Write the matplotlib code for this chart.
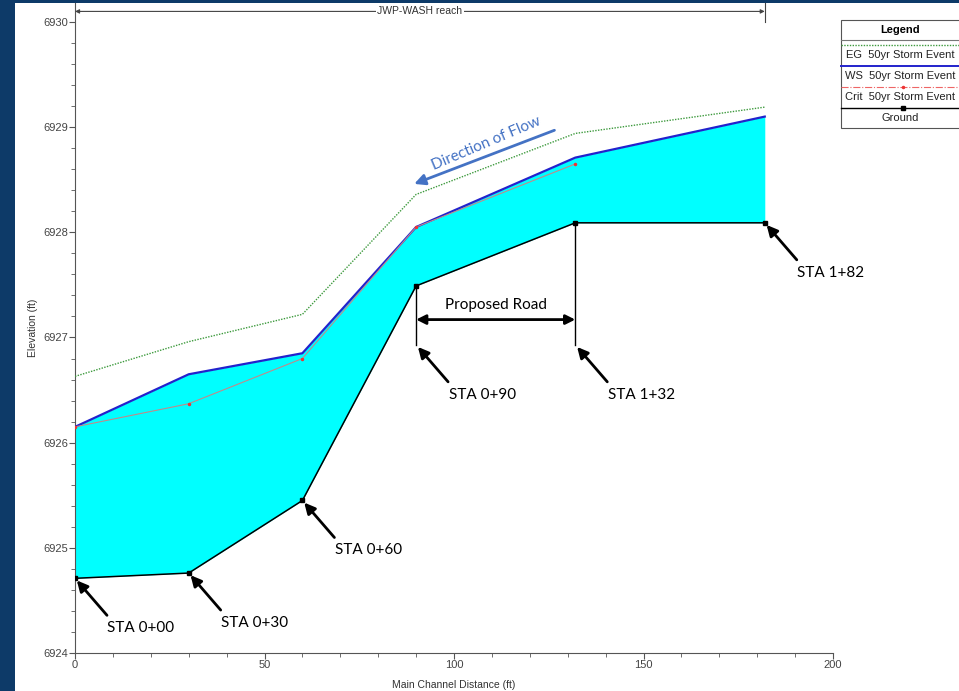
import matplotlib
matplotlib.use("Agg")
import matplotlib.pyplot as plt
from matplotlib.patches import Rectangle
from matplotlib.lines import Line2D
from matplotlib.ticker import MultipleLocator

# --- data ---
stations = [0, 30, 60, 90, 132, 182]
ground = [6924.71, 6924.76, 6925.45, 6927.49, 6928.09, 6928.09]
ws = [6926.15, 6926.65, 6926.85, 6928.05, 6928.71, 6929.10]
eg = [6926.63, 6926.96, 6927.22, 6928.36, 6928.94, 6929.19]
crit_sta = [0, 30, 60, 90, 132]
crit = [6926.15, 6926.37, 6926.80, 6928.05, 6928.65]
sta_labels = ["STA 0+00", "STA 0+30", "STA 0+60", "STA 0+90", "STA 1+32", "STA 1+82"]
road_start, road_end = 90, 132
road_elev = 6926.93

W, H = 959, 691
fig = plt.figure(figsize=(W / 100, H / 100), dpi=100)
fig.patch.set_facecolor("#0d3a68")
fig.add_artist(Rectangle((15 / W, 0), 1, 1 - 3 / H, transform=fig.transFigure,
                         facecolor="white", edgecolor="none", zorder=0))

ax = fig.add_axes([75 / W, 1 - 653 / H, (833 - 75) / W, (653 - 3) / H])
ax.set_facecolor("none")
ax.set_xlim(0, 200)
ax.set_ylim(6924, 6930.18)
for s in ["top", "right"]:
    ax.spines[s].set_visible(False)
for s in ["left", "bottom"]:
    ax.spines[s].set_color("#555555")
    ax.spines[s].set_linewidth(0.8)

ax.xaxis.set_major_locator(MultipleLocator(50))
ax.xaxis.set_minor_locator(MultipleLocator(10))
ax.yaxis.set_minor_locator(MultipleLocator(0.2))
ax.set_yticks(range(6924, 6931))
ax.tick_params(which="both", color="#555555", labelsize=8, labelcolor="#444444",
               pad=1, labelfontfamily="Liberation Sans")
ax.tick_params(which="major", length=4)
ax.tick_params(which="minor", length=3)
ax.set_xlabel("Main Channel Distance (ft)", fontsize=7.5, color="#333333",
              family="Liberation Sans", labelpad=7)
ax.set_ylabel("Elevation (ft)", fontsize=7.5, color="#333333",
              family="Liberation Sans", labelpad=4)

# --- profile ---
ax.fill_between(stations, ground, ws, color="#00ffff", linewidth=0, zorder=1)
ax.plot(stations, eg, color="#3d9a3d", linestyle=(0, (1, 1)), linewidth=1, zorder=3)
ax.plot(stations, ws, color="#2222cc", linewidth=1.6, zorder=3)
ax.plot(crit_sta, crit, color="#c08a8a", linewidth=0.8, marker=".",
        markersize=3, markerfacecolor="#ee3333", markeredgecolor="#ee3333", zorder=4)
ax.plot(stations, ground, color="black", linewidth=1.1, marker="s",
        markersize=2.5, zorder=4)

# --- reach bracket on top ---
ax.annotate("", xy=(0, 6930.1), xytext=(182, 6930.1),
            arrowprops=dict(arrowstyle="<|-|>", color="#444444", lw=0.8,
                            mutation_scale=6, shrinkA=0, shrinkB=0),
            annotation_clip=False)
ax.plot([182, 182], [6930.0, 6930.18], color="#444444", lw=0.8, clip_on=False)
ax.text(91, 6930.1, "JWP-WASH reach", fontsize=7.5, ha="center", va="center",
        color="#333333", family="Liberation Sans",
        bbox=dict(facecolor="white", edgecolor="none", pad=1))

# --- station callouts ---
sans = ["Lato", "DejaVu Sans"]
heads = list(zip(stations, ground))
heads[3] = (road_start, road_elev)
heads[4] = (road_end, road_elev)
for (x, y), lab in zip(heads, sta_labels):
    ax.annotate("", xy=(x, y), xytext=(32, -37), textcoords="offset pixels",
                arrowprops=dict(arrowstyle="-|>", color="black", lw=2,
                                mutation_scale=16, shrinkA=0, shrinkB=2))
    ax.annotate(lab, xy=(x, y), xytext=(66, -50), textcoords="offset pixels",
                ha="center", va="center", fontsize=11, family=sans)

# --- proposed road ---
ax.plot([road_start, road_start], [ground[3], road_elev], color="black", lw=1)
ax.plot([road_end, road_end], [ground[4], road_elev], color="black", lw=1)
ax.annotate("", xy=(road_start, 6927.17), xytext=(road_end, 6927.17),
            arrowprops=dict(arrowstyle="<|-|>", color="black", lw=2,
                            mutation_scale=14, shrinkA=0, shrinkB=0))
ax.text(111, 6927.31, "Proposed Road", ha="center", va="center",
        fontsize=11, family=sans)

# --- direction of flow ---
ax.annotate("", xy=(89.5, 6928.46), xytext=(126.5, 6928.97),
            arrowprops=dict(arrowstyle="-|>", color="#4472c4", lw=2,
                            mutation_scale=16, shrinkA=0, shrinkB=0))
ax.text(108.5, 6928.84, "Direction of Flow", ha="center", va="center",
        rotation=23, rotation_mode="anchor", fontsize=11, color="#4472c4",
        family=sans)

# --- legend box drawn by hand ---
def fx(px):
    return px / W

def fy(py):
    return 1 - py / H

fig.add_artist(Rectangle((fx(841), fy(128)), fx(140), (128 - 20) / H,
                         transform=fig.transFigure, facecolor="white",
                         edgecolor="#555555", lw=0.8, zorder=5))
fig.text(fx(900), fy(30), "Legend", ha="center", va="center", fontsize=8,
         weight="bold", family="Liberation Sans", zorder=6)
fig.add_artist(Line2D([fx(841), 1], [fy(40), fy(40)], color="#777777", lw=0.8, zorder=6))
rows = [
    ("EG  50yr Storm Event", dict(color="#3d9a3d", linestyle=(0, (1, 1)), lw=1)),
    ("WS  50yr Storm Event", dict(color="#2222cc", lw=1.4)),
    ("Crit  50yr Storm Event", dict(color="#ee6666", linestyle="-.", lw=0.8)),
    ("Ground", dict(color="black", lw=1)),
]
markers = [None, None, ("#ee3333", "."), ("black", "s")]
for i, ((lab, style), mk) in enumerate(zip(rows, markers)):
    ly = 45 + i * 21
    fig.add_artist(Line2D([fx(841), 1], [fy(ly), fy(ly)], zorder=6, **style))
    if mk:
        fig.add_artist(Line2D([fx(903)], [fy(ly)], marker=mk[1], color=mk[0],
                              markersize=3, linestyle="none", zorder=7))
    fig.text(fx(900), fy(ly + 10), lab, ha="center", va="center", fontsize=8,
             family="Liberation Sans", color="#222222", zorder=6)

fig.savefig("out.png", dpi=100, facecolor=fig.get_facecolor())
